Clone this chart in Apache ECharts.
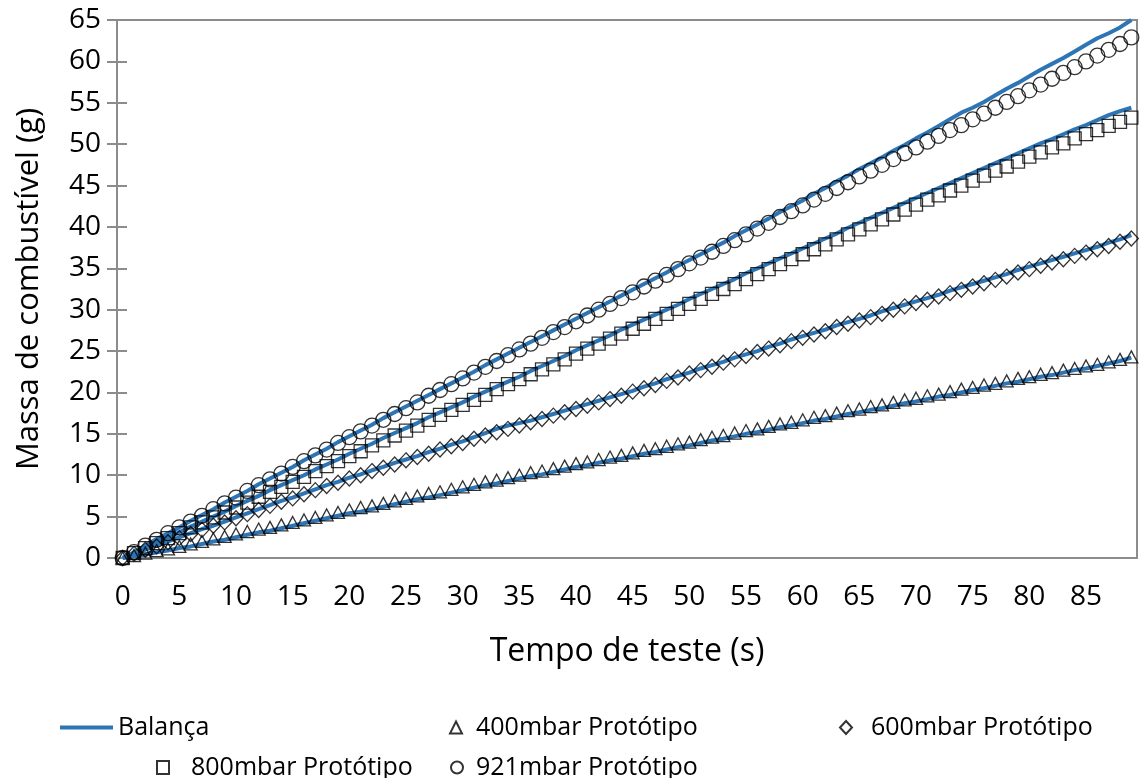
<!DOCTYPE html>
<html>
<head>
<meta charset="utf-8">
<title>Massa de combustível</title>
<script src="https://cdn.jsdelivr.net/npm/echarts@6/dist/echarts.min.js"></script>
<style>
  html, body { margin: 0; padding: 0; background: #fff; }
  #main { width: 1140px; height: 778px; }
</style>
</head>
<body>
<div id="main"></div>
<script>
// tempo de teste (s)
var tempo = [0,1,2,3,4,5,6,7,8,9,10,11,12,13,14,15,16,17,18,19,20,21,22,23,24,25,26,27,28,29,
  30,31,32,33,34,35,36,37,38,39,40,41,42,43,44,45,46,47,48,49,50,51,52,53,54,55,56,57,58,59,
  60,61,62,63,64,65,66,67,68,69,70,71,72,73,74,75,76,77,78,79,80,81,82,83,84,85,86,87,88,89];

// Balança (linhas azuis)
var balanca400 = [0,0.2,0.4,0.7,0.9,1.2,1.4,1.7,2.0,2.2, 2.5,2.8,3.1,3.3,3.6,3.9,4.2,4.5,4.8,5.1,
  5.4,5.6,5.9,6.2,6.5,6.8,7.1,7.3,7.6,7.9, 8.2,8.5,8.8,9.0,9.3,9.6,9.9,10.1,10.4,10.7,
  11.0,11.2,11.5,11.8,12.0,12.3,12.6,12.8,13.1,13.4, 13.6,13.9,14.2,14.4,14.7,15.0,15.2,15.5,15.8,16.0,
  16.3,16.6,16.8,17.1,17.4,17.6,17.9,18.1,18.4,18.7, 18.9,19.2,19.5,19.7,20.0,20.3,20.5,20.8,21.1,21.3,
  21.6,21.9,22.1,22.4,22.7,22.9,23.2,23.5,23.8,24.2];
var balanca600 = [0,0.5,1.0,1.5,2.0,2.5,3.0,3.5,3.9,4.4, 4.9,5.4,5.9,6.4,6.9,7.3,7.8,8.3,8.8,9.2,
  9.7,10.1,10.6,11.0,11.5,11.9,12.3,12.8,13.2,13.7, 14.1,14.6,15.1,15.6,16.0,16.3,16.6,17.0,17.4,17.8,
  18.2,18.6,19.0,19.4,19.8,20.2,20.7,21.1,21.6,22.0, 22.4,22.9,23.3,23.7,24.2,24.6,25.0,25.5,25.9,26.4,
  26.8,27.2,27.6,28.1,28.5,28.9,29.3,29.8,30.2,30.6, 31.0,31.4,31.8,32.3,32.7,33.1,33.5,33.9,34.3,34.8,
  35.2,35.6,36.0,36.4,36.8,37.2,37.6,38.1,38.5,39.0];
var balanca800 = [0,0.6,1.3,1.9,2.5,3.1,3.8,4.4,5.0,5.6, 6.3,6.9,7.5,8.2,8.8,9.4,10.0,10.7,11.3,11.9,
  12.6,13.2,13.8,14.5,15.1,15.7,16.3,17.0,17.6,18.2, 18.8,19.5,20.1,20.7,21.3,21.9,22.6,23.2,23.8,24.4,
  25.1,25.7,26.3,26.9,27.6,28.2,28.8,29.4,30.0,30.6, 31.3,31.9,32.5,33.1,33.7,34.4,35.0,35.6,36.2,36.8,
  37.4,38.0,38.6,39.2,39.9,40.5,41.1,41.7,42.3,42.9, 43.5,44.1,44.7,45.3,45.9,46.5,47.1,47.7,48.3,48.9,
  49.5,50.1,50.6,51.2,51.8,52.3,52.9,53.5,54.0,54.4];
var balanca921 = [0,0.7,1.5,2.3,3.0,3.7,4.5,5.2,5.9,6.7, 7.4,8.1,8.9,9.6,10.3,11.0,11.8,12.5,13.2,14.0,
  14.7,15.4,16.1,16.9,17.6,18.3,19.0,19.7,20.4,21.1, 21.8,22.5,23.3,24.0,24.7,25.4,26.1,26.8,27.5,28.2,
  28.9,29.6,30.3,31.0,31.7,32.4,33.1,33.8,34.5,35.3, 36.0,36.7,37.4,38.1,38.9,39.6,40.3,41.0,41.8,42.5,
  43.2,44.0,44.7,45.5,46.2,47.0,47.7,48.4,49.2,49.9, 50.7,51.4,52.2,53.0,53.8,54.4,55.1,55.9,56.7,57.4,
  58.2,59.0,59.7,60.4,61.2,62.0,62.8,63.4,64.1,65.0];

// Protótipo (marcadores)
var prot400 = [0,0.3,0.6,0.9,1.1,1.4,1.7,2.0,2.3,2.6, 2.9,3.2,3.5,3.7,4.0,4.3,4.6,4.9,5.2,5.5,
  5.8,6.1,6.3,6.6,6.9,7.2,7.5,7.8,8.0,8.3, 8.6,8.9,9.2,9.4,9.7,10.0,10.3,10.5,10.8,11.1,
  11.4,11.6,11.9,12.2,12.4,12.7,13.0,13.2,13.5,13.8, 14.0,14.3,14.6,14.8,15.1,15.4,15.6,15.9,16.2,16.4,
  16.7,17.0,17.2,17.5,17.8,18.0,18.3,18.5,18.8,19.1, 19.3,19.6,19.8,20.1,20.4,20.6,20.9,21.1,21.4,21.7,
  21.9,22.2,22.4,22.7,22.9,23.2,23.4,23.7,24.0,24.3];
var prot600 = [0,0.5,1.0,1.4,1.9,2.4,2.9,3.4,3.9,4.3, 4.8,5.3,5.8,6.3,6.8,7.2,7.7,8.2,8.7,9.1,
  9.6,10.0,10.5,10.9,11.3,11.8,12.2,12.6,13.1,13.5, 13.9,14.4,14.8,15.2,15.6,16.0,16.4,16.8,17.2,17.6,
  18.0,18.4,18.8,19.2,19.6,20.1,20.5,20.9,21.4,21.8, 22.3,22.7,23.1,23.6,24.0,24.4,24.9,25.3,25.7,26.2,
  26.6,27.0,27.4,27.9,28.3,28.7,29.1,29.5,30.0,30.4, 30.8,31.2,31.6,32.0,32.4,32.8,33.2,33.6,34.0,34.5,
  34.9,35.3,35.7,36.1,36.5,36.9,37.3,37.7,38.2,38.6];
var prot800 = [0,0.6,1.2,1.8,2.4,3.0,3.7,4.3,4.9,5.5, 6.1,6.7,7.4,8.0,8.6,9.2,9.8,10.5,11.1,11.7,
  12.3,12.9,13.6,14.2,14.8,15.4,16.0,16.7,17.3,17.9, 18.5,19.1,19.7,20.4,21.0,21.6,22.2,22.8,23.4,24.0,
  24.7,25.3,25.9,26.5,27.1,27.7,28.3,28.9,29.5,30.1, 30.7,31.3,31.9,32.5,33.1,33.7,34.3,34.9,35.5,36.1,
  36.7,37.3,37.9,38.5,39.1,39.7,40.3,40.9,41.5,42.1, 42.7,43.3,43.8,44.4,45.0,45.6,46.2,46.8,47.3,47.9,
  48.5,49.0,49.6,50.1,50.7,51.2,51.7,52.2,52.7,53.2];
var prot921 = [0,0.7,1.5,2.2,3.0,3.7,4.4,5.1,5.9,6.6, 7.3,8.1,8.8,9.5,10.2,11.0,11.7,12.4,13.1,13.9,
  14.6,15.3,16.0,16.7,17.4,18.1,18.8,19.6,20.3,21.0, 21.7,22.4,23.1,23.8,24.5,25.2,25.9,26.6,27.3,27.9,
  28.6,29.3,30.0,30.7,31.4,32.1,32.8,33.5,34.2,34.9, 35.6,36.3,37.0,37.7,38.4,39.1,39.8,40.5,41.2,41.9,
  42.6,43.3,44.0,44.7,45.4,46.1,46.8,47.5,48.2,48.9, 49.6,50.3,51.0,51.7,52.3,53.0,53.7,54.4,55.1,55.8,
  56.5,57.2,57.9,58.6,59.3,60.0,60.7,61.4,62.1,62.9];

var font = 'Open Sans';
var cinza = '#8c8c8c';
var azul = '#2e75b6';

function linha(dados) {
  return {
    name: 'Balança', type: 'line', data: dados, symbol: 'none',
    lineStyle: { color: azul, width: 4 }, itemStyle: { color: azul },
    z: 2
  };
}
function marcador(nome, dados, simbolo, tam) {
  return {
    name: nome, type: 'scatter', data: dados, symbol: simbolo, symbolSize: tam,
    itemStyle: { color: 'transparent', borderColor: '#000', borderWidth: 1.3 },
    z: 3
  };
}
// legenda separada para cada item, como no Excel
function legenda(item, left, top, w, h, pad) {
  return {
    data: [item], left: left, top: top, padding: 0,
    itemWidth: w, itemHeight: h,
    textStyle: { fontFamily: font, fontSize: 25, color: '#000', padding: [0, 0, 0, pad] }
  };
}

var chart = echarts.init(document.getElementById('main'));
var option = {
  backgroundColor: '#fff',
  animation: false,
  grid: { left: 117, right: 3, top: 20, bottom: 220, show: true, borderColor: cinza, borderWidth: 2 },
  legend: [
    legenda({ name: 'Balança', icon: 'rect' }, 60, 715, 53, 4, 0),
    legenda({ name: '400mbar Protótipo', icon: 'triangle' }, 449, 715, 12, 12, 9),
    legenda({ name: '600mbar Protótipo', icon: 'diamond' }, 839, 715, 12, 13, 14),
    legenda({ name: '800mbar Protótipo', icon: 'rect' }, 156, 755, 12, 13, 17),
    legenda({ name: '921mbar Protótipo', icon: 'circle' }, 450, 755, 12, 13, 8)
  ],
  xAxis: {
    type: 'category', data: tempo, boundaryGap: true,
    name: 'Tempo de teste (s)', nameLocation: 'middle', nameGap: 78,
    nameTextStyle: { fontFamily: font, fontSize: 32, color: '#000' },
    axisLine: { lineStyle: { color: cinza, width: 2 } },
    axisTick: { show: false },
    axisLabel: { interval: 4, fontFamily: font, fontSize: 28, color: '#000', margin: 25 },
    splitLine: { show: false }
  },
  yAxis: [{
    type: 'value', min: 0, max: 65, interval: 5,
    name: 'Massa de combustível (g)', nameLocation: 'middle', nameGap: 72, nameRotate: 90,
    nameTextStyle: { fontFamily: font, fontSize: 31, color: '#000' },
    axisLine: { show: true, lineStyle: { color: cinza, width: 2 } },
    axisTick: { show: true, length: 10, lineStyle: { color: cinza, width: 2 } },
    axisLabel: { fontFamily: font, fontSize: 28, color: '#000', margin: 16 },
    splitLine: { show: false }
  }, {
    type: 'value', min: 0, max: 65, interval: 5, position: 'left',
    axisLine: { show: false },
    axisTick: { show: true, inside: true, length: 10, lineStyle: { color: cinza, width: 2 } },
    axisLabel: { show: false },
    splitLine: { show: false }
  }],
  series: [
    linha(balanca400), linha(balanca600), linha(balanca800), linha(balanca921),
    marcador('400mbar Protótipo', prot400, 'triangle', [13, 12]),
    marcador('600mbar Protótipo', prot600, 'diamond', [14, 15]),
    marcador('800mbar Protótipo', prot800, 'rect', 13),
    marcador('921mbar Protótipo', prot921, 'circle', 15)
  ]
};
chart.setOption(option);
</script>
</body>
</html>
